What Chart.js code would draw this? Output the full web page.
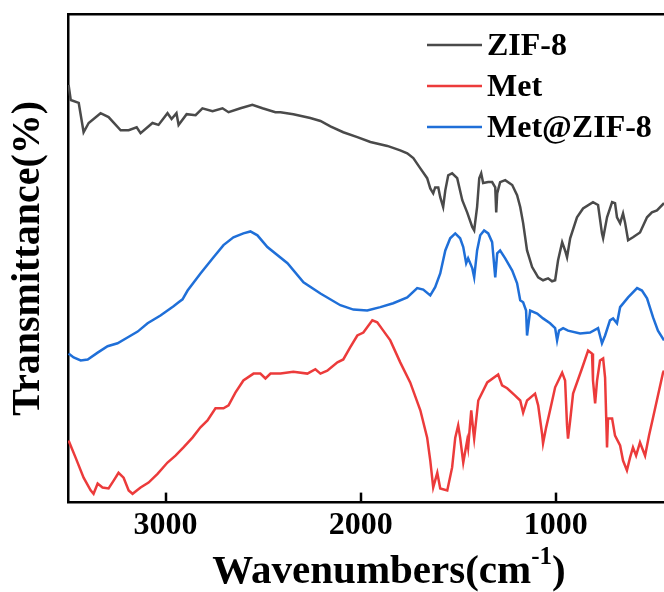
<!DOCTYPE html>
<html>
<head>
<meta charset="utf-8">
<script src="https://cdn.jsdelivr.net/npm/chart.js@4"></script>
<style>
  html, body { margin: 0; padding: 0; background: #fff; overflow: hidden; }
  #ftir { display: block; }
</style>
</head>
<body>
<canvas id="ftir" width="664" height="592"></canvas>
<script>
// wavenumbers (cm-1) and transmittance (a.u., offset curves)
const zifWn = [3497,3486,3445,3420,3394,3333,3292,3230,3189,3148,3128,3067,3036,2990,2969,2944,2933,2892,2846,2811,2759,2708,2677,2616,2555,2503,2437,2411,2345,2258,2206,2155,2089,2017,1950,1863,1797,1761,1730,1694,1659,1643,1628,1618,1602,1592,1577,1566,1551,1531,1505,1479,1454,1428,1418,1403,1392,1382,1372,1346,1326,1310,1305,1300,1285,1259,1223,1198,1182,1167,1147,1121,1090,1065,1039,1019,1003,988,967,952,942,926,891,860,809,783,763,757,737,711,696,686,670,655,645,629,604,568,532,507,481,445];
const zifT = [85.5,82.4,81.8,75.8,77.7,79.7,78.9,76.2,76.2,76.8,75.6,77.7,77.3,79.7,78.5,79.7,77.3,79.5,79.3,80.7,80.1,80.7,79.9,80.7,81.4,80.7,79.9,79.9,79.5,78.7,78.1,77.0,75.8,74.8,73.8,73.0,72.1,71.5,70.5,68.4,66.4,64.3,63.3,64.5,64.5,62.5,60.5,63.9,67.0,67.4,66.4,61.9,59.4,56.4,55.7,60.5,66.4,67.4,65.4,65.6,65.6,64.5,59.4,63.3,65.6,66.0,65.0,62.9,60.5,57.2,51.6,48.2,46.1,45.5,45.9,45.3,45.5,49.6,53.3,51.6,50.2,54.1,58.4,60.2,61.5,60.9,55.1,54.1,58.4,61.5,61.3,58.4,57.2,59.2,57.4,53.7,54.3,55.3,58.4,59.4,59.8,61.3];

const metWn = [3497,3461,3420,3384,3369,3348,3323,3292,3266,3241,3215,3189,3169,3128,3087,3041,2990,2949,2908,2862,2821,2785,2744,2703,2677,2642,2601,2549,2514,2488,2462,2411,2345,2273,2232,2206,2171,2119,2089,2053,2017,1986,1940,1915,1884,1848,1797,1746,1694,1659,1643,1628,1607,1592,1556,1531,1515,1500,1490,1474,1454,1449,1433,1423,1418,1397,1351,1295,1275,1249,1208,1182,1167,1147,1106,1090,1070,1065,1049,1029,1003,967,952,942,937,926,911,865,834,814,809,798,788,773,757,747,737,732,711,696,670,655,635,619,604,588,568,542,522,501,476,450,445];
const metT = [12.7,9.2,5.1,2.5,1.8,3.9,3.1,2.9,4.5,6.1,5.1,2.5,1.8,3.1,4.1,5.9,8.2,9.6,11.3,13.3,15.4,16.8,19.3,19.3,19.9,22.5,25.0,26.4,26.4,25.4,26.4,26.4,26.8,26.4,27.3,26.4,27.0,28.7,29.3,31.8,34.2,34.8,37.3,36.9,35.2,33.2,28.7,24.6,18.9,13.3,8.6,3.1,6.1,2.9,2.5,7.2,13.3,15.8,13.3,8.2,12.7,11.3,18.9,14.8,13.1,20.9,24.6,26.2,24.0,23.4,21.9,20.9,18.4,20.9,22.3,19.9,14.1,12.1,15.4,18.9,23.6,26.6,25.0,15.8,13.1,16.8,22.3,27.5,31.1,30.5,25.0,20.3,25.0,29.1,29.5,25.6,11.3,17.2,17.2,13.7,11.7,8.6,6.6,9.2,11.3,9.6,12.3,9.6,13.7,17.4,21.9,26.6,27.0];

const mzWn = [3497,3471,3435,3399,3348,3297,3246,3195,3143,3092,3026,2959,2933,2913,2887,2821,2754,2703,2652,2601,2565,2529,2478,2375,2293,2206,2104,2037,1966,1899,1833,1761,1710,1679,1643,1618,1592,1566,1541,1515,1490,1474,1459,1449,1428,1418,1403,1387,1367,1346,1326,1310,1300,1285,1259,1223,1198,1182,1167,1152,1147,1131,1095,1065,1029,1003,993,983,962,937,875,824,783,763,747,722,706,686,670,629,583,558,532,501,476,445];
const mzT = [30.5,29.7,29.1,29.3,30.7,32.0,32.6,33.8,35.0,36.7,38.3,40.2,41.0,41.6,43.4,46.9,50.2,52.7,54.3,55.1,55.5,54.7,52.3,49.0,45.1,42.8,40.4,39.5,39.3,40.0,40.8,42.0,43.9,43.6,42.4,44.1,46.9,51.6,54.1,55.1,54.1,52.3,49.0,50.0,48.0,46.1,51.6,54.7,55.7,55.1,53.3,46.1,51.0,51.6,50.0,47.5,44.9,41.4,41.0,39.3,34.2,39.3,38.7,37.7,36.7,35.7,33.2,35.2,35.7,35.2,34.6,34.8,35.7,32.6,34.2,37.3,37.7,36.7,40.0,42.0,43.9,43.4,41.8,37.9,35.2,33.2];

const seriesNames = ['ZIF-8', 'Met', 'Met@ZIF-8'];
const xTicks = [1000, 2000, 3000];

const pts = (xs, ys) => xs.map((x, i) => ({ x: x, y: ys[i] }));
const serif = 'Liberation Serif';

// legend drawn inside the plot, top right
const legendInside = {
    id: 'legendInside',
    afterDraw(chart) {
        const ctx = chart.ctx;
        ctx.save();
        ctx.font = 'bold 32px "' + serif + '"';
        ctx.textBaseline = 'alphabetic';
        chart.data.datasets.forEach((ds, i) => {
            const y = 45 + i * 41;
            ctx.strokeStyle = ds.borderColor;
            ctx.lineWidth = 2.5;
            ctx.beginPath();
            ctx.moveTo(427, y);
            ctx.lineTo(482, y);
            ctx.stroke();
            ctx.fillStyle = '#000';
            ctx.fillText(ds.label, 487, y + 10);
        });
        ctx.restore();
    }
};

// short tick marks pointing into the plot
const innerTicks = {
    id: 'innerTicks',
    afterDraw(chart) {
        const ctx = chart.ctx;
        const sx = chart.scales.x;
        const bottom = chart.chartArea.bottom;
        ctx.save();
        ctx.strokeStyle = '#000';
        ctx.lineWidth = 2.5;
        xTicks.forEach(v => {
            const px = Math.round(sx.getPixelForValue(v));
            ctx.beginPath();
            ctx.moveTo(px, bottom);
            ctx.lineTo(px, bottom - 10);
            ctx.stroke();
        });
        ctx.restore();
    }
};

// x title with a superscript -1
const xTitle = {
    id: 'xTitle',
    afterDraw(chart) {
        const ctx = chart.ctx;
        const big = 'bold 41px "' + serif + '"';
        const small = 'bold 25px "' + serif + '"';
        ctx.save();
        ctx.fillStyle = '#000';
        ctx.textBaseline = 'alphabetic';
        ctx.font = big;
        const w1 = ctx.measureText('Wavenumbers(cm').width;
        const w3 = ctx.measureText(')').width;
        ctx.font = small;
        const w2 = ctx.measureText('-1').width;
        let x = 389 - (w1 + w2 + w3) / 2;
        const y = 583;
        ctx.font = big;
        ctx.fillText('Wavenumbers(cm', x, y);
        x += w1;
        ctx.font = small;
        ctx.fillText('-1', x, y - 19);
        x += w2;
        ctx.font = big;
        ctx.fillText(')', x, y);
        ctx.restore();
    }
};

const line = (label, xs, ys, color) => ({
    label: label,
    data: pts(xs, ys),
    borderColor: color,
    borderWidth: 2.5,
    pointRadius: 0,
    tension: 0,
    fill: false
});

new Chart(document.getElementById('ftir').getContext('2d'), {
    type: 'line',
    data: {
        datasets: [
            line(seriesNames[0], zifWn, zifT, '#4a4a4a'),
            line(seriesNames[1], metWn, metT, '#ec3b3b'),
            line(seriesNames[2], mzWn, mzT, '#1f6fd8')
        ]
    },
    options: {
        responsive: false,
        animation: false,
        devicePixelRatio: 1,
        layout: { padding: { top: 14, right: 0, left: 0, bottom: 43 } },
        plugins: { legend: { display: false }, tooltip: { enabled: false } },
        scales: {
            x: {
                type: 'linear',
                reverse: true,
                min: 445,
                max: 3500,
                afterBuildTicks: (s) => { s.ticks = xTicks.map(v => ({ value: v })); },
                grid: { display: false, drawTicks: false },
                border: { display: true, color: '#000', width: 2.5 },
                ticks: {
                    color: '#000',
                    padding: 4,
                    maxRotation: 0,
                    font: { family: serif, size: 32, weight: 'bold' },
                    callback: (v) => String(v)
                }
            },
            xTop: {
                type: 'linear',
                position: 'top',
                reverse: true,
                min: 445,
                max: 3500,
                grid: { display: false, drawTicks: false },
                border: { display: true, color: '#000', width: 2.5 },
                ticks: { display: false }
            },
            y: {
                min: 0,
                max: 100,
                grid: { display: false, drawTicks: false },
                border: { display: true, color: '#000', width: 2.5 },
                ticks: { display: false },
                title: {
                    display: true,
                    text: 'Transmittance(%)',
                    color: '#000',
                    font: { family: serif, size: 40, weight: 'bold', lineHeight: 1 },
                    padding: { top: 9, bottom: 19 }
                }
            }
        }
    },
    plugins: [innerTicks, legendInside, xTitle]
});
</script>
</body>
</html>
